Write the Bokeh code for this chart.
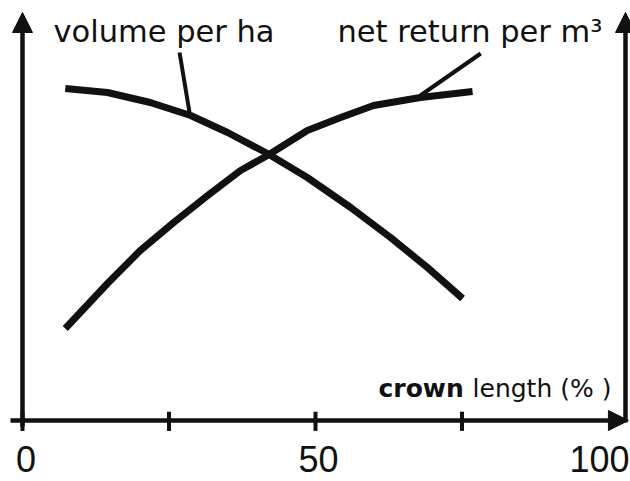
from bokeh.plotting import figure
from bokeh.models import Range1d, Arrow, NormalHead, ColumnDataSource
from bokeh.core.properties import value
from bokeh.embed import file_html
from bokeh.resources import INLINE

# ---- data (crown length in %, relative values) ----
crown_volume = [7.3, 14.5, 21.8, 28.7, 35.0, 41.8, 48.6, 56.0, 62.8, 69.1, 75.1]
volume_per_ha = [83.0, 82.0, 79.5, 76.25, 72.0, 66.75, 60.75, 53.25, 45.75, 38.25, 30.5]

crown_return = [7.3, 14.5, 20.1, 25.8, 31.6, 37.2, 41.8, 48.6, 54.3, 59.9, 67.9, 76.8]
net_return_per_m3 = [23.0, 34.25, 42.5, 49.5, 56.25, 62.5, 66.25, 72.5, 75.75, 78.75, 80.75, 82.25]

tick_values = [0, 25, 50, 75]
tick_label_values = [0, 50, 100]
tick_labels = ["0", "50", "100"]

series_names = ["volume per ha", "net return per m³"]
x_title_bold = "crown"
x_title_rest = "length (% )"

INK = "#111111"

p = figure(width=630, height=481, output_backend="svg", toolbar_location=None,
           x_range=Range1d(-3.754, 103.754), y_range=Range1d(-15.25, 105.0),
           min_border=0)
p.axis.visible = False
p.grid.visible = False
p.outline_line_color = None
p.background_fill_color = "white"

# curves
p.line(crown_volume, volume_per_ha, line_width=7, line_color=INK, line_join="round")
p.line(crown_return, net_return_per_m3, line_width=7, line_color=INK, line_join="round")

# leader lines from labels to curves
p.segment(x0=[26.8, 78.2], y0=[92.0, 91.75], x1=[28.5, 67.9], y1=[77.0, 81.25],
          line_width=4, line_color=INK)

# axes drawn as arrows
p.add_layout(Arrow(end=NormalHead(size=20, fill_color=INK, line_color=INK),
                   x_start=-2.05, y_start=0, x_end=103.4, y_end=0,
                   line_width=4.5, line_color=INK))
p.add_layout(Arrow(end=NormalHead(size=20, fill_color=INK, line_color=INK),
                   x_start=0, y_start=-1.5, x_end=0, y_end=102.0,
                   line_width=4.5, line_color=INK))
p.add_layout(Arrow(end=NormalHead(size=20, fill_color=INK, line_color=INK),
                   x_start=102.9, y_start=-0.5, x_end=102.9, y_end=102.0,
                   line_width=4.5, line_color=INK))

# tick marks
p.segment(x0=tick_values, y0=[2.2] * len(tick_values), x1=tick_values,
          y1=[-2.6] * len(tick_values), line_width=4, line_color=INK)

# tick labels
lab_src = ColumnDataSource(dict(x=tick_label_values, y=[-9.5] * 3, text=tick_labels,
                                dx=[3.5, 3, -9]))
p.text(x="x", y="y", text="text", source=lab_src, text_align="center", x_offset="dx",
       text_baseline="alphabetic", text_font=value("Liberation Sans"),
       text_font_size="36px", text_color=INK)

# series labels
p.text(x=[5.29, 53.75], y=[97.25, 97.25], text=series_names,
       text_font=value("DejaVu Sans"), text_font_size="30.5px",
       text_baseline="alphabetic", text_align="left", text_color=INK)

# x axis title
p.text(x=[60.75], y=[8.0], text=[x_title_bold], text_font=value("DejaVu Sans"),
       text_font_size="25px", text_font_style="bold", text_baseline="alphabetic",
       text_align="left", text_color=INK)
p.text(x=[76.8], y=[8.0], text=[x_title_rest], text_font=value("DejaVu Sans"),
       text_font_size="25px", text_baseline="alphabetic", text_align="left",
       text_color=INK)

open("out.html", "w").write(file_html(p, INLINE))
